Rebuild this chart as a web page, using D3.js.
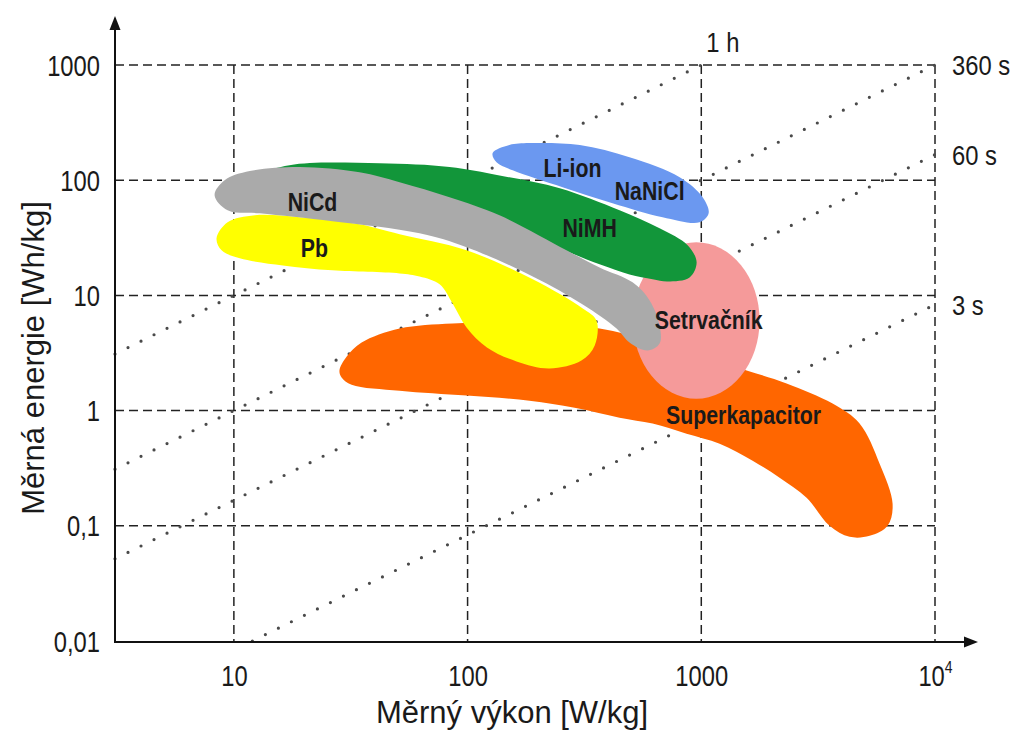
<!DOCTYPE html>
<html>
<head>
<meta charset="utf-8">
<script src="https://cdn.jsdelivr.net/npm/d3@7"></script>
<style>
  html, body { margin: 0; padding: 0; background: #fff; }
  svg { display: block; }
  text { font-family: "Liberation Sans", Arial, sans-serif; fill: #1a1a1a; }
</style>
</head>
<body>
<svg id="chart" width="1016" height="731"></svg>
<script>
// Ragone plot: specific energy [Wh/kg] vs specific power [W/kg]

// Axis ticks
const xTicks = [10, 100, 1000, 10000];
const xTickLabels = ["10", "100", "1000", "10^4"];
const yTicks = [0.01, 0.1, 1, 10, 100, 1000];
const yTickLabels = ["0,01", "0,1", "1", "10", "100", "1000"];

// Constant discharge-time lines (hours) and their labels
const dischargeHours = [1, 0.1, 1 / 60, 1 / 1200];
const dischargeLabels = ["1 h", "360 s", "60 s", "3 s"];

// Region outlines, [power W/kg, energy Wh/kg]
const superkapacitor = [
  [28.3, 2.23], [30.4, 2.95], [35.2, 3.90], [51.2, 5.16], [86.3, 5.71], [167, 5.82],
  [367, 5.16], [601, 4.06], [983, 3.01], [1563, 2.23], [2317, 1.72], [3646, 1.15],
  [4757, 0.771], [5794, 0.346], [6585, 0.155], [6270, 0.1], [5252, 0.0818], [4311, 0.0802],
  [3540, 0.1], [2822, 0.175], [2163, 0.261], [1658, 0.367], [1198, 0.516], [865, 0.631],
  [619, 0.771], [447, 0.869], [287, 1.06], [184, 1.22], [99, 1.35], [51.2, 1.49],
  [31.9, 1.68], [28.9, 1.94]
];
// Flywheel: extent in power and energy
const setrvacnikPower = [510, 1776];
const setrvacnikEnergy = [1.27, 28.9];
const pb = [
  [8.43, 31.3], [9.40, 43.1], [12.3, 49.6], [19.1, 47.7], [34.5, 41.4], [51.2, 33.9],
  [99, 24.6], [190, 13.8], [311, 7.71], [356, 6.06], [350, 3.67], [307, 2.72],
  [224, 2.32], [162, 2.67], [121, 3.53], [99, 5.27], [86.3, 8.52], [75.9, 12.5],
  [62.3, 14.6], [51.2, 15.5], [26.4, 16.5], [16.2, 18.2], [10.6, 21.0], [8.86, 24.6]
];
const nimh = [
  [11.7, 104], [17.3, 135], [42.0, 140], [83.7, 130], [137, 110], [248, 85.2],
  [447, 54.8], [663, 38.2], [874, 27.2], [955, 19.4], [891, 14.3], [717, 13.2],
  [619, 13.8], [493, 15.2], [367, 18.6], [248, 25.6], [137, 43.1], [62.3, 72.6],
  [28.3, 88.7], [14.2, 92.3]
];
const nicd = [
  [8.27, 74.1], [9.13, 100], [11.7, 120], [19.1, 130], [34.5, 117], [51.2, 96.1],
  [83.7, 71.2], [137, 49.6], [265, 24.6], [367, 17.5], [508, 13.0], [601, 9.05],
  [663, 5.48], [663, 3.82], [589, 3.32], [493, 3.90], [434, 5.16], [311, 8.35],
  [190, 14.6], [99, 26.2], [62.3, 34.6], [26.4, 44.0], [12.9, 51.6], [9.40, 54.8]
];
const liIon = [
  [128, 172], [151, 202], [184, 210], [302, 202], [493, 158], [808, 106],
  [1013, 71.2], [1075, 51.6], [983, 43.1], [683, 47.7], [417, 63.1], [255, 86.9],
  [156, 122], [133, 143]
];

// Region names and label anchors [power, energy]
const regionLabels = ["Li-ion", "NaNiCl", "NiMH", "NiCd", "Pb", "Setrvačník", "Superkapacitor"];
const regionLabelAt = [[281, 127], [601, 80.2], [333, 38.2], [21.7, 64.4], [22.1, 25.6], [1075, 6.06], [1517, 0.923]];

const svg = d3.select("#chart");

const x = d3.scaleLog().domain([3.1, 10000]).range([115, 935]);
const y = d3.scaleLog().domain([0.01, 1000]).range([641, 65]);

const x0 = x.range()[0], y0 = y.range()[0];
const xMax = 10000, yMax = 1000;

// Narrow lettering: move x/y into a transform and squeeze horizontally
function condense(sel, sx) {
  sel.each(function() {
    const t = d3.select(this);
    const tx = +t.attr("x") || 0, ty = +t.attr("y") || 0;
    t.attr("x", null).attr("y", null)
      .attr("transform", `translate(${tx},${ty}) scale(${sx},1)`);
  });
}

// Dashed grid
const grid = svg.append("g")
  .attr("stroke", "#222").attr("stroke-width", 1.5).attr("stroke-dasharray", "9,5").attr("fill", "none");
grid.selectAll("line.h").data(yTicks.filter(v => v > 0.01)).join("line")
  .attr("x1", x0).attr("x2", x(xMax)).attr("y1", d => y(d)).attr("y2", d => y(d));
grid.selectAll("line.v").data(xTicks).join("line")
  .attr("x1", d => x(d)).attr("x2", d => x(d)).attr("y1", y(yMax)).attr("y2", y0);

// Dotted lines of constant discharge time: E = t * P
const pMin = x.domain()[0];
const dotted = svg.append("g")
  .attr("stroke", "#4a4a4a").attr("stroke-width", 3.2).attr("stroke-linecap", "round")
  .attr("stroke-dasharray", "0,14.5").attr("fill", "none");
dischargeHours.forEach(t => {
  const pStart = Math.max(pMin, 0.01 / t);
  const pEnd = Math.min(xMax, yMax / t);
  dotted.append("line")
    .attr("x1", x(pStart)).attr("y1", y(t * pStart))
    .attr("x2", x(pEnd)).attr("y2", y(t * pEnd));
});
const timeText = svg.append("g").selectAll("text").data(dischargeLabels).join("text")
  .attr("x", (d, i) => {
    const t = dischargeHours[i], pEnd = Math.min(xMax, yMax / t);
    return pEnd >= xMax ? x(pEnd) + 17 : x(pEnd) + 5;
  })
  .attr("y", (d, i) => {
    const t = dischargeHours[i], pEnd = Math.min(xMax, yMax / t);
    return pEnd >= xMax ? y(t * pEnd) + 10 : y(t * pEnd) - 13;
  })
  .attr("font-size", 28)
  .text(d => d);
condense(timeText, 0.85);

// Regions
const outline = d3.line().x(d => x(d[0])).y(d => y(d[1])).curve(d3.curveCatmullRomClosed.alpha(0.5));
const regions = svg.append("g");
regions.append("path").attr("d", outline(superkapacitor)).attr("fill", "#ff6600");
regions.append("ellipse")
  .attr("cx", (x(setrvacnikPower[0]) + x(setrvacnikPower[1])) / 2)
  .attr("cy", (y(setrvacnikEnergy[0]) + y(setrvacnikEnergy[1])) / 2)
  .attr("rx", (x(setrvacnikPower[1]) - x(setrvacnikPower[0])) / 2)
  .attr("ry", (y(setrvacnikEnergy[0]) - y(setrvacnikEnergy[1])) / 2)
  .attr("fill", "#f59a9a");
regions.append("path").attr("d", outline(pb)).attr("fill", "#ffff00");
regions.append("path").attr("d", outline(nimh)).attr("fill", "#12963a");
regions.append("path").attr("d", outline(nicd)).attr("fill", "#aaaaaa");
regions.append("path").attr("d", outline(liIon)).attr("fill", "#6b98f0");

const regionText = svg.append("g").selectAll("text").data(regionLabels).join("text")
  .attr("x", (d, i) => x(regionLabelAt[i][0]))
  .attr("y", (d, i) => y(regionLabelAt[i][1]) + 9)
  .attr("text-anchor", "middle")
  .attr("font-size", 26).attr("font-weight", "bold").attr("fill", "#141414")
  .text(d => d);
condense(regionText, 0.82);

// Axes
const axisG = svg.append("g").attr("stroke", "#111").attr("stroke-width", 2);
axisG.append("line").attr("x1", x0).attr("x2", x0).attr("y1", y0 + 1).attr("y2", 26);
axisG.append("line").attr("x1", x0 - 1).attr("x2", 968).attr("y1", y0 + 1).attr("y2", y0 + 1);
svg.append("path").attr("d", `M${x0},16 L${x0 - 5.5},30 L${x0 + 5.5},30 Z`).attr("fill", "#111");
svg.append("path").attr("d", `M978,${y0 + 1} L964,${y0 - 4.5} L964,${y0 + 6.5} Z`).attr("fill", "#111");

const yAxis = svg.append("g").attr("transform", `translate(${x0},0)`)
  .call(d3.axisLeft(y).tickValues(yTicks).tickSize(0).tickPadding(15)
    .tickFormat((d, i) => yTickLabels[i]));
yAxis.select(".domain").remove();
const yText = yAxis.selectAll("text").attr("font-size", 29).attr("font-family", null).attr("fill", "#1a1a1a")
  .attr("dy", null).attr("y", 10);
condense(yText, 0.82);

const xAxis = svg.append("g").attr("transform", `translate(0,${y0 + 1})`)
  .call(d3.axisBottom(x).tickValues(xTicks).tickSize(0).tickPadding(22)
    .tickFormat((d, i) => xTickLabels[i]));
xAxis.select(".domain").remove();
const xText = xAxis.selectAll("text").attr("font-size", 29).attr("font-family", null).attr("fill", "#1a1a1a")
  .attr("dy", null).attr("y", 44)
  .each(function(d, i) {
    const lab = xTickLabels[i];
    if (lab.includes("^")) {
      const [base, exp] = lab.split("^");
      const t = d3.select(this).text(null);
      t.append("tspan").text(base);
      t.append("tspan").attr("font-size", 17).attr("dy", "-0.75em").text(exp);
    }
  });
condense(xText, 0.82);

// Axis titles
const titles = svg.append("g");
titles.append("text")
  .attr("x", 512).attr("y", 723).attr("text-anchor", "middle").attr("font-size", 31)
  .text("Měrný výkon [W/kg]");
titles.append("text")
  .attr("transform", "translate(44,358) rotate(-90)").attr("text-anchor", "middle").attr("font-size", 31)
  .text("Měrná energie [Wh/kg]");
</script>
</body>
</html>
